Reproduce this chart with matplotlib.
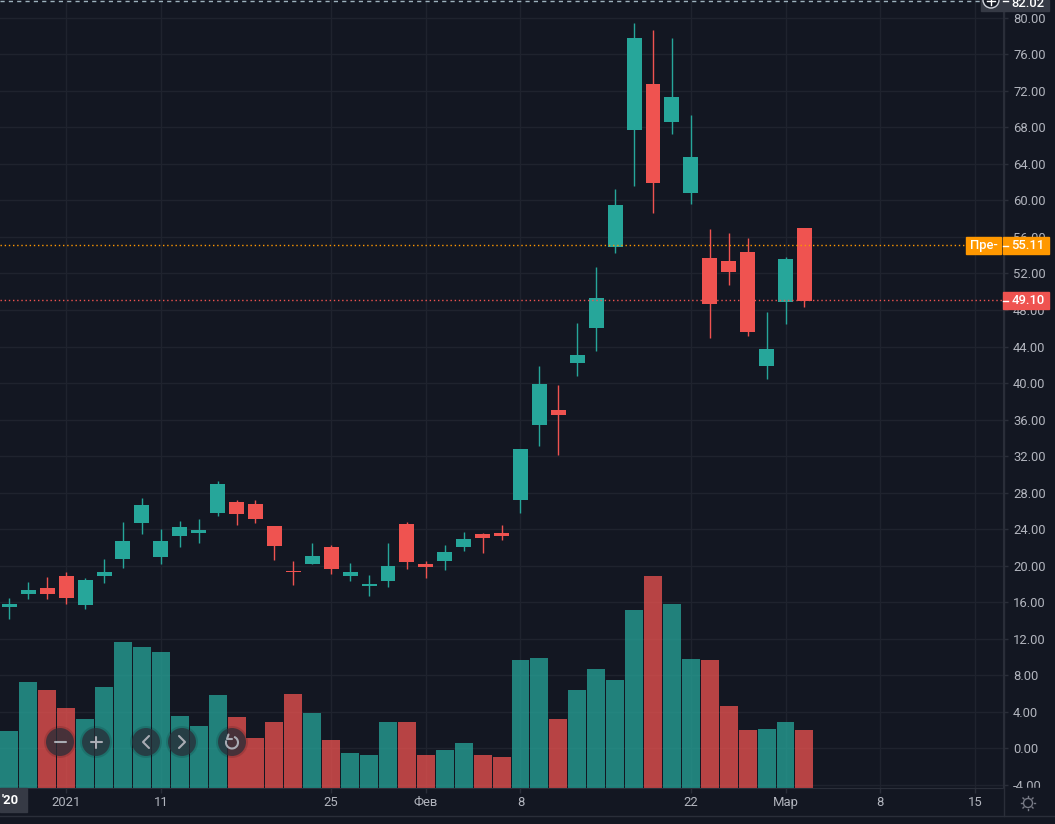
import matplotlib
matplotlib.use('Agg')
import matplotlib.pyplot as plt
from matplotlib.patches import Arc, Circle, Rectangle

plt.rcParams['font.family'] = ['Roboto', 'DejaVu Sans']

# свечи: индекс торгового дня 0..42
high = [16.44, 18.19, 18.74, 19.29, 18.63, 20.71, 24.77, 27.40, 24.00, 24.88, 25.10,
        29.26, 27.18, 27.18, 24.33, 20.49, 22.47, 22.25, 20.27, 18.96, 22.47, 24.77,
        20.49, 22.25, 23.67, 23.56, 24.44, 32.77, 41.86, 39.78, 46.58, 52.71, 61.26,
        79.45, 78.68, 77.81, 69.37, 56.88, 56.44, 55.89, 47.78, 53.81, 56.99]
low = [14.14, 16.33, 16.33, 15.78, 15.23, 18.08, 19.73, 23.45, 20.16, 22.03, 22.47,
       25.42, 24.44, 24.66, 20.60, 17.86, 20.16, 19.07, 18.30, 16.66, 17.64, 19.62,
       18.63, 19.51, 21.59, 21.37, 22.79, 25.75, 33.10, 32.11, 40.77, 43.51, 54.25,
       61.59, 58.63, 67.29, 59.62, 44.93, 50.74, 45.15, 40.44, 46.47, 48.33]
body_top = [15.78, 17.32, 17.53, 18.85, 18.41, 19.29, 22.68, 26.63, 22.68, 24.22, 23.89,
            28.93, 26.96, 26.74, 24.33, 19.42, 21.04, 22.03, 19.29, 17.97, 19.95, 24.55,
            20.16, 21.48, 22.90, 23.45, 23.56, 32.77, 39.89, 37.04, 43.07, 49.32, 59.51,
            77.81, 72.77, 71.34, 64.77, 53.70, 53.37, 54.36, 43.73, 53.59, 56.99]
body_bottom = [15.45, 16.88, 16.88, 16.44, 15.67, 18.85, 20.71, 24.66, 20.93, 23.23, 23.56,
               25.75, 25.64, 25.10, 22.14, 19.31, 20.16, 19.62, 18.85, 17.75, 18.30, 20.38,
               19.84, 20.49, 22.03, 23.01, 23.23, 27.18, 35.40, 36.49, 42.19, 46.03, 54.90,
               67.73, 61.92, 68.60, 60.82, 48.66, 52.16, 45.59, 41.86, 48.88, 48.99]
is_up = [1, 1, 0, 0, 1, 1, 1, 1, 1, 1, 1, 1, 0, 0, 0, 0, 1, 0, 1, 1, 1, 0,
         0, 1, 1, 0, 0, 1, 1, 0, 1, 1, 1, 1, 0, 1, 1, 0, 0, 0, 1, 1, 0]
# верх столбцов объёма, в единицах шкалы цены
volume_top = [1.86, 7.23, 6.36, 4.38, 3.18, 6.68, 11.62, 11.07, 10.52, 3.51, 2.41,
              5.81, 3.40, 1.10, 2.85, 5.92, 3.84, 0.88, -0.55, -0.77, 2.85, 2.85,
              -0.77, -0.20, 0.55, -0.77, -1.00, 9.64, 9.86, 3.18, 6.36, 8.66, 7.45,
              15.12, 18.85, 15.78, 9.75, 9.64, 4.60, 1.97, 2.08, 2.85, 1.97]

y_ticks = list(range(-4, 84, 4))
x_tick_pos = [3, 8, 17, 22, 27, 36, 41, 46, 51]
x_tick_labels = ['2021', '11', '25', 'Фев', '8', '22', 'Мар', '8', '15']

BG = '#131722'
GRID = '#1f232e'
BORDER = '#2a2e39'
TEXT = '#b2b5be'
TEAL = '#26a69a'
RED = '#ef5350'
ORANGE = '#ff9800'
W, H = 1055, 824
FS = 9.4

fig = plt.figure(figsize=(W / 100, H / 100), dpi=100, facecolor=BG)
ax = fig.add_axes([0, 1 - 788 / H, 1003 / W, 788 / H], facecolor=BG)
ax.set_xlim(-0.4966, 52.49)
ax.set_ylim(-4.38, 81.97)

ax.set_yticks(y_ticks)
ax.set_yticklabels([f'{v:.2f}' for v in y_ticks])
ax.yaxis.tick_right()
ax.set_xticks(x_tick_pos)
ax.set_xticklabels(x_tick_labels)
ax.tick_params(axis='both', colors=BORDER, length=3.6, width=1, labelcolor=TEXT, labelsize=FS)
ax.tick_params(axis='y', pad=3.6)
ax.tick_params(axis='x', pad=2)
ax.grid(True, color=GRID, linewidth=1)
ax.set_axisbelow(True)
for name in ['top', 'left']:
    ax.spines[name].set_visible(False)
for name in ['right', 'bottom']:
    ax.spines[name].set_color(BORDER)

x = list(range(len(high)))
colors = [TEAL if u else RED for u in is_up]
bar_bottom = ax.get_ylim()[0]
ax.bar(x, [v - bar_bottom for v in volume_top], bottom=bar_bottom, width=0.95, color=colors,
       alpha=0.75, linewidth=0, zorder=2)
wicks = ax.vlines(x, low, high, colors=colors, linewidth=1, zorder=3)
wicks.set_snap(True)
ax.bar(x, [t - b for t, b in zip(body_top, body_bottom)], bottom=body_bottom, width=0.79,
       color=colors, linewidth=0, zorder=4)

ax.axhline(55.11, color=ORANGE, linewidth=1, linestyle=(0, (1, 2)), zorder=5)
ax.axhline(49.10, color=RED, linewidth=1, linestyle=(0, (1, 2)), zorder=5)

# верхний слой в пикселях: подписи, кнопки, значки
ui = fig.add_axes([0, 0, 1, 1], facecolor='none')
ui.set_xlim(0, W)
ui.set_ylim(H, 0)
ui.axis('off')

ui.add_patch(Rectangle((1004, 788), W - 1004, H - 788, color=BG, zorder=1))
ui.plot([0, W], [816, 816], color=BORDER, linewidth=1, zorder=2)
ui.plot([1003.5, 1003.5], [0, 816], color=BORDER, linewidth=1, zorder=2)

ui.add_patch(Rectangle((0, 788), 27, 24, color='#363a45', zorder=2))
ui.text(10.5, 801, "'20", color='white', fontsize=FS, fontweight='bold', ha='center', va='center', zorder=3)

# верхняя пунктирная линия и метка
ui.plot([0, 981], [0.7, 0.7], color='#9db2bd', linewidth=1, linestyle=(0, (3, 3)), zorder=2)
ui.add_patch(Rectangle((981, 0), 68, 11, color='#363a45', zorder=2))
ui.add_patch(Circle((991, 0), 8, facecolor=BG, edgecolor='#d1d4dc', linewidth=1, zorder=3))
ui.plot([987, 995], [1, 1], color='white', linewidth=1, zorder=4)
ui.plot([991, 991], [0, 5], color='white', linewidth=1, zorder=4)
ui.plot([1003, 1008], [0.7, 0.7], color='white', linewidth=1, zorder=4)
ui.text(1028, 3, '82.02', color='white', fontsize=FS, fontweight='medium', ha='center', va='center', zorder=4)

# метки цены
ui.add_patch(Rectangle((966, 237), 35, 17, color=ORANGE, zorder=3))
ui.text(983.5, 245.5, 'Пре-', color='white', fontsize=FS, fontweight='medium', ha='center', va='center', zorder=4)
ui.add_patch(Rectangle((1003, 237), 46, 17, color=ORANGE, zorder=3))
ui.text(1028, 245.5, '55.11', color='white', fontsize=FS, fontweight='medium', ha='center', va='center', zorder=4)
ui.plot([1003, 1008], [245.5, 245.5], color='white', linewidth=1, zorder=4)
ui.add_patch(Rectangle((1003, 292), 46, 17, color=RED, zorder=3))
ui.text(1028, 300.5, '49.10', color='white', fontsize=FS, fontweight='medium', ha='center', va='center', zorder=4)
ui.plot([1003, 1008], [300.5, 300.5], color='white', linewidth=1, zorder=4)

# значок настроек внизу справа
ui.add_patch(Circle((1028, 803), 4.5, facecolor='none', edgecolor='#787b86', linewidth=1, zorder=3))
for dx, dy in [(7, 0), (-7, 0), (0, 7), (0, -7), (5, 5), (-5, 5), (5, -5), (-5, -5)]:
    ui.plot([1028 + dx * 0.85, 1028 + dx], [803 + dy * 0.85, 803 + dy], color='#787b86', linewidth=1, zorder=3)

# кнопки навигации
BTN_Y = 742
for bx in [60, 96, 146, 182, 232]:
    ui.add_patch(Circle((bx, BTN_Y), 16, color='black', alpha=0.12, linewidth=0, zorder=5))
    ui.add_patch(Circle((bx, BTN_Y), 14, color='#2a2e39', alpha=0.75, linewidth=0, zorder=6))
icon = dict(color='#a9acb4', linewidth=1.5, solid_capstyle='round', zorder=7)
ui.plot([54.5, 65.5], [742, 742], **icon)
ui.plot([90.5, 101.5], [742, 742], **icon)
ui.plot([96, 96], [736.5, 747.5], **icon)
ui.plot([149, 143, 149], [736, 742, 748], **icon)
ui.plot([179, 185, 179], [736, 742, 748], **icon)
ui.add_patch(Arc((232, 742.5), 12, 12, theta1=-70, theta2=200, color='#a9acb4', linewidth=1.5, zorder=7))
ui.plot([228.5, 227, 232], [734.5, 739, 739], **icon)

fig.savefig('out.png', dpi=100, facecolor=BG)
